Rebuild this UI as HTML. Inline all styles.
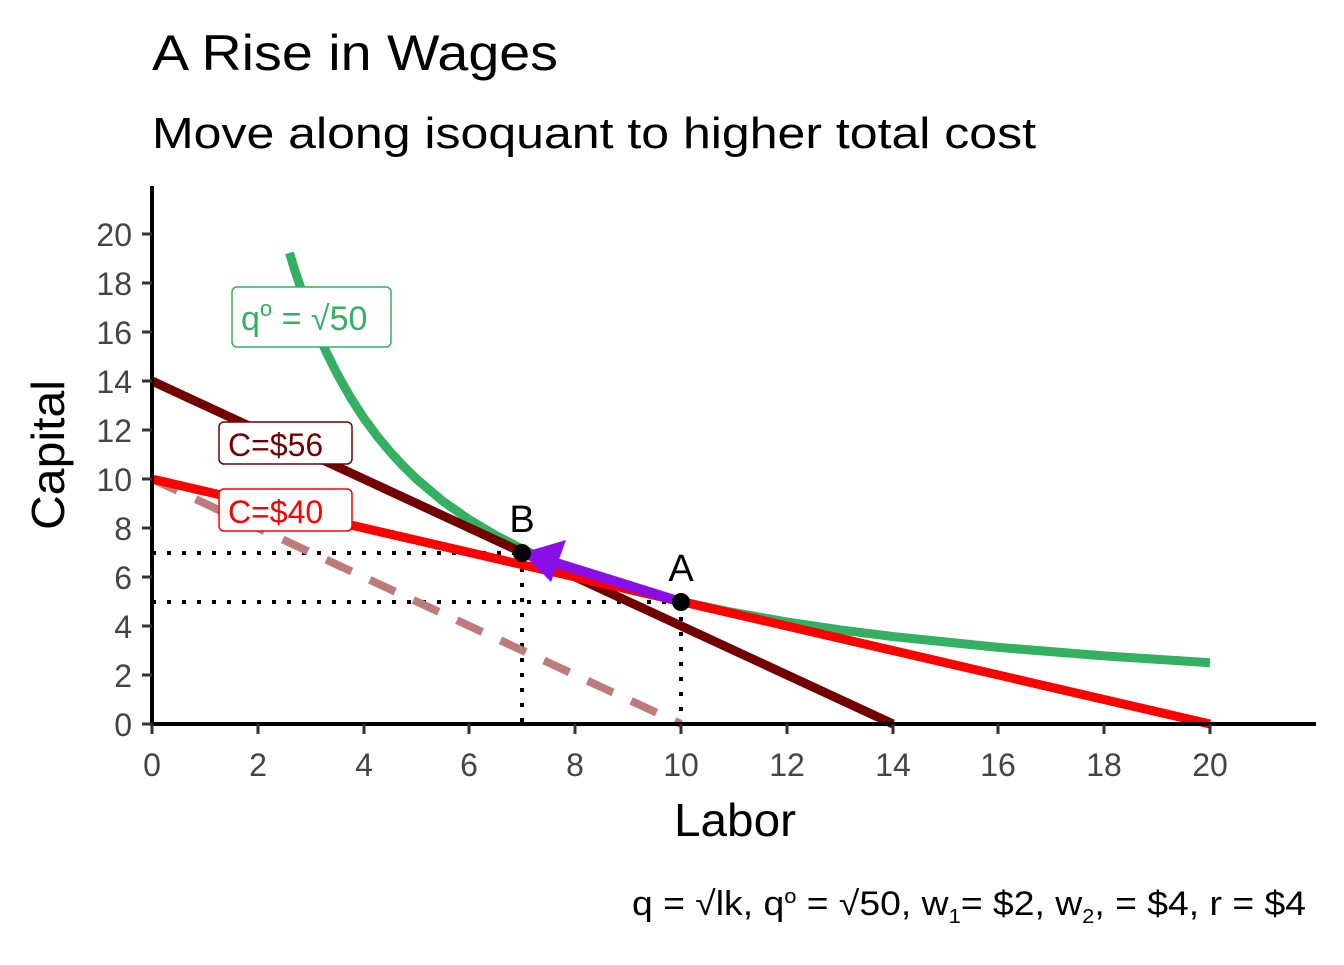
<!DOCTYPE html>
<html><head><meta charset="utf-8"><style>
body{margin:0;background:#fff;}
svg text{font-family:"Liberation Sans",sans-serif;}
</style></head><body>
<svg width="1344" height="960" viewBox="0 0 1344 960" xmlns="http://www.w3.org/2000/svg">
<rect width="1344" height="960" fill="#fff"/>
<text x="152" y="70" font-size="50" fill="#000" textLength="406" lengthAdjust="spacingAndGlyphs">A Rise in Wages</text>
<text x="152" y="148" font-size="44" fill="#000" textLength="884" lengthAdjust="spacingAndGlyphs">Move along isoquant to higher total cost</text>

<g stroke="#000" stroke-width="4" stroke-dasharray="4,11" fill="none">
<line x1="152" y1="553" x2="522" y2="553"/>
<line x1="152" y1="602" x2="681" y2="602"/>
<line x1="522" y1="553" x2="522" y2="724"/>
<line x1="681" y1="602" x2="681" y2="724"/>
</g>
<line x1="152" y1="479" x2="681" y2="724" stroke="#bc7c7c" stroke-width="8" stroke-dasharray="28,20"/>
<polyline fill="none" stroke="#33b062" stroke-width="9" stroke-linejoin="round" points="289.5,252.9 294.8,270.3 305.4,301.6 316,328.8 326.6,352.8 337.2,374 350.4,397.3 363.6,417.8 376.9,435.8 390.1,451.8 403.3,466 416.5,479 443,501.3 469.4,519.8 495.9,535.5 522.3,549.1 548.8,560.7 575.2,570.9 628.1,587.9 681,601.5 733.9,612.6 786.8,621.9 839.7,629.8 892.6,636.5 998.4,647.4 1104.2,655.9 1210,662.75"/>
<line x1="152" y1="381" x2="893" y2="724" stroke="#720000" stroke-width="9"/>
<line x1="152" y1="479" x2="1210" y2="724" stroke="#ff0000" stroke-width="9"/>
<line x1="681" y1="602" x2="550" y2="561" stroke="#8a0ee6" stroke-width="10"/>
<polygon points="522,553 566,540 551,582" fill="#8a0ee6"/>
<circle cx="522" cy="553" r="9" fill="#000"/>
<circle cx="681" cy="602" r="9" fill="#000"/>
<text x="522" y="532" font-size="38" text-anchor="middle">B</text>
<text x="681" y="581" font-size="38" text-anchor="middle">A</text>

<rect x="232" y="287" width="159" height="60" rx="5" fill="#fff" stroke="#33b062" stroke-width="1.5"/>
<text x="241" y="330" font-size="34" fill="#33b062">q<tspan dy="-14" font-size="22">o</tspan><tspan dy="14"> = √50</tspan></text>
<rect x="219" y="422" width="133" height="42" rx="5" fill="#fff" stroke="#720000" stroke-width="1.5"/>
<text x="228" y="456" font-size="32" fill="#720000">C=$56</text>
<rect x="219" y="489" width="133" height="42" rx="5" fill="#fff" stroke="#ff0000" stroke-width="1.5"/>
<text x="228" y="523" font-size="32" fill="#ff0000">C=$40</text>

<line x1="152" y1="186" x2="152" y2="726" stroke="#000" stroke-width="4"/>
<line x1="150" y1="724" x2="1316" y2="724" stroke="#000" stroke-width="4"/>
<g stroke="#333" stroke-width="3">
<line x1="142" y1="724" x2="152" y2="724"/><line x1="142" y1="675" x2="152" y2="675"/><line x1="142" y1="626" x2="152" y2="626"/><line x1="142" y1="577" x2="152" y2="577"/><line x1="142" y1="528" x2="152" y2="528"/><line x1="142" y1="479" x2="152" y2="479"/><line x1="142" y1="430" x2="152" y2="430"/><line x1="142" y1="381" x2="152" y2="381"/><line x1="142" y1="332" x2="152" y2="332"/><line x1="142" y1="283" x2="152" y2="283"/><line x1="142" y1="234" x2="152" y2="234"/>
<line x1="152" y1="724" x2="152" y2="734"/><line x1="258" y1="724" x2="258" y2="734"/><line x1="364" y1="724" x2="364" y2="734"/><line x1="469" y1="724" x2="469" y2="734"/><line x1="575" y1="724" x2="575" y2="734"/><line x1="681" y1="724" x2="681" y2="734"/><line x1="787" y1="724" x2="787" y2="734"/><line x1="893" y1="724" x2="893" y2="734"/><line x1="998" y1="724" x2="998" y2="734"/><line x1="1104" y1="724" x2="1104" y2="734"/><line x1="1210" y1="724" x2="1210" y2="734"/>
</g>
<g font-size="32" fill="#444" text-anchor="end">
<text x="132" y="736">0</text><text x="132" y="687">2</text><text x="132" y="638">4</text><text x="132" y="589">6</text><text x="132" y="540">8</text><text x="132" y="491">10</text><text x="132" y="442">12</text><text x="132" y="393">14</text><text x="132" y="344">16</text><text x="132" y="295">18</text><text x="132" y="246">20</text>
</g>
<g font-size="32" fill="#444" text-anchor="middle">
<text x="152" y="776">0</text><text x="258" y="776">2</text><text x="364" y="776">4</text><text x="469" y="776">6</text><text x="575" y="776">8</text><text x="681" y="776">10</text><text x="787" y="776">12</text><text x="893" y="776">14</text><text x="998" y="776">16</text><text x="1104" y="776">18</text><text x="1210" y="776">20</text>
</g>
<text x="674" y="836" font-size="46" textLength="122" lengthAdjust="spacingAndGlyphs">Labor</text>
<text transform="translate(64,530) rotate(-90)" font-size="46" textLength="150" lengthAdjust="spacingAndGlyphs">Capital</text>
<text x="632" y="915" font-size="34" textLength="674" lengthAdjust="spacingAndGlyphs">q = √lk, q<tspan dy="-12" font-size="20">o</tspan><tspan dy="12"> = √50, w</tspan><tspan dy="8" font-size="20">1</tspan><tspan dy="-8">= $2, w</tspan><tspan dy="8" font-size="20">2</tspan><tspan dy="-8">, = $4, r = $4</tspan></text>
</svg>
</body></html>
